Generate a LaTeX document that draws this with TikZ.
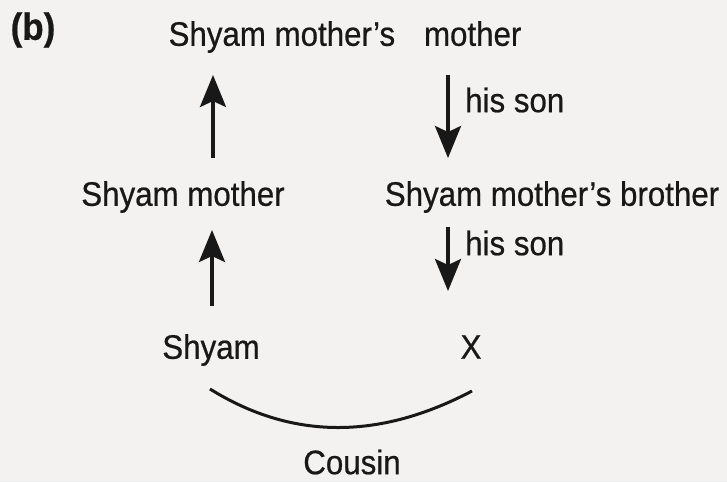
\documentclass[tikz,border=0pt]{standalone}
\usepackage{fontspec}
\setmainfont{Liberation Sans}[FakeBold=0.6,FakeStretch=0.92]
\usetikzlibrary{arrows.meta}
\definecolor{paper}{RGB}{243,242,240}
\definecolor{ink}{RGB}{24,24,24}
\tikzset{
  lbl/.style={inner sep=0pt, text=ink, font=\fontsize{34}{38}\selectfont},
  arr/.style={draw=ink, line width=3.5pt, -{Stealth[length=32pt,width=26pt,inset=6pt]}},
  arc/.style={draw=ink, line width=3pt}
}
\begin{document}
\begin{tikzpicture}[x=1pt,y=-1pt]
\fill[paper] (0,0) rectangle (727,482);
\useasboundingbox (0,0) rectangle (727,482);
\node[lbl, font=\fontsize{38}{42}\bfseries] (b) at (33,30) {(b)};
\node[lbl] (top) at (345,37) {Shyam mother's\hspace{0.85em}mother};
\node[lbl] (lm) at (183,197) {Shyam mother};
\node[lbl] (rm) at (552,197) {Shyam mother's brother};
\node[lbl] (shyam) at (211,350) {Shyam};
\node[lbl] (x) at (471,347) {X};
\node[lbl] (cousin) at (352,462) {Cousin};
\node[lbl, anchor=west] (son1) at (465,100) {his son};
\node[lbl, anchor=west] (son2) at (465,243) {his son};
\coordinate (u1s) at (213,158);
\coordinate (u1e) at (213,75);
\coordinate (u2s) at (212,306);
\coordinate (u2e) at (212,230);
\coordinate (d1s) at (448,75);
\coordinate (d1e) at (448,158);
\coordinate (d2s) at (448,227);
\coordinate (d2e) at (448,291);
\coordinate (c1) at (210,389);
\coordinate (c2) at (472,391);
\draw[arr] (u1s) -- (u1e);
\draw[arr] (u2s) -- (u2e);
\draw[arr] (d1s) -- (d1e);
\draw[arr] (d2s) -- (d2e);
\draw[arc] (c1) .. controls (292,440) and (379,440) .. (c2);
\end{tikzpicture}
\end{document}
